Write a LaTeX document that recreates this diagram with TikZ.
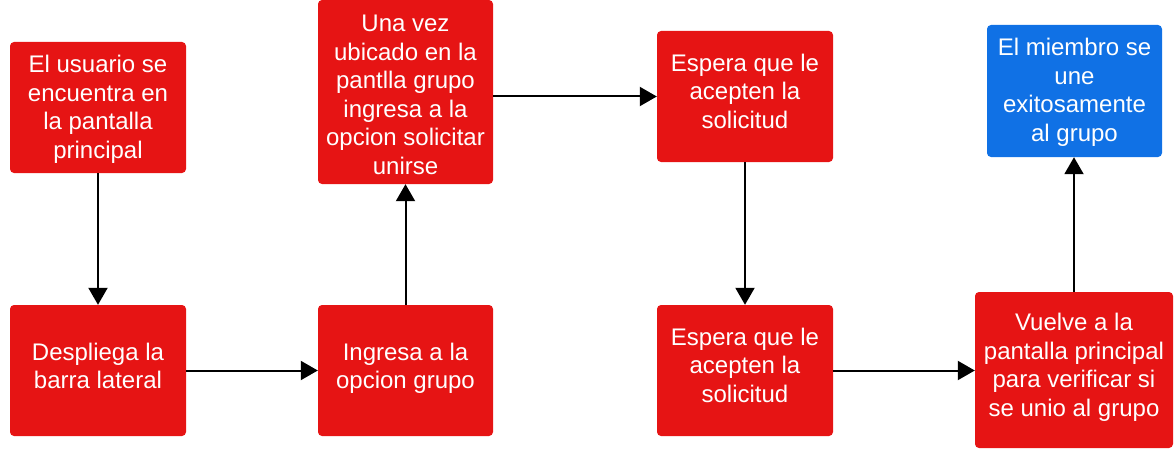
\documentclass[tikz,border=0pt]{standalone}
\usepackage{fontspec}
\setmainfont{Liberation Sans}
\usetikzlibrary{arrows.meta}
\definecolor{boxred}{HTML}{E61414}
\definecolor{boxblue}{HTML}{1071E5}
\newcommand{\mytop}{\rule{0pt}{24pt}}
\newcommand{\mybot}[1]{\rule[-#1pt]{0pt}{#1pt}}
\tikzset{
  stepbox/.style={fill=boxred, draw=none, rounded corners=4pt, inner sep=0pt,
    text=white, align=center, font=\fontsize{24}{28.5}\selectfont},
  endbox/.style={stepbox, fill=boxblue},
  arr/.style={line width=2pt, draw=black, -{Triangle[length=17pt,width=19pt]}}
}
\begin{document}
\begin{tikzpicture}[x=1pt,y=-1pt]
\useasboundingbox (0,0) rectangle (1176,452);
\node[stepbox, minimum width=176pt, minimum height=131pt] (b1) at (98,107.5)
  {\mytop El usuario se\\encuentra en\\la pantalla\\principal\mybot{8.4}};
\node[stepbox, minimum width=176pt, minimum height=131pt] (b2) at (98,370.5)
  {\mytop Despliega la\\barra lateral\mybot{15.8}};
\node[stepbox, minimum width=175pt, minimum height=131pt] (b3) at (405.5,370.5)
  {\mytop Ingresa a la\\opcion grupo\mybot{15.8}};
\node[stepbox, minimum width=175pt, minimum height=184pt] (b4) at (405.5,92)
  {\mytop Una vez\\ubicado en la\\pantlla grupo\\ingresa a la\\opcion solicitar\\unirse\mybot{2.4}};
\node[stepbox, minimum width=176pt, minimum height=131pt] (b5) at (745,96.5)
  {\mytop Espera que le\\acepten la\\solicitud\mybot{17.2}};
\node[stepbox, minimum width=176pt, minimum height=131pt] (b6) at (745,370.5)
  {\mytop Espera que le\\acepten la\\solicitud\mybot{17.8}};
\node[stepbox, minimum width=198pt, minimum height=156pt] (b7) at (1074,370)
  {\mytop Vuelve a la\\pantalla principal\\para verificar si\\se unio al grupo\mybot{17.2}};
\node[endbox, minimum width=175pt, minimum height=132pt] (b8) at (1074.5,91)
  {\mytop El miembro se\\une\\exitosamente\\al grupo\mybot{9.4}};
\draw[arr] (b1.south) -- (b2.north);
\draw[arr] (b2.east) -- (b3.west);
\draw[arr] (b3.north) -- (b4.south);
\draw[arr] (b4.east |- b5.west) -- (b5.west);
\draw[arr] (b5.south) -- (b6.north);
\draw[arr] (b6.east) -- (b6.east -| b7.west);
\draw[arr] (b7.north) -- (b7.north |- b8.south);
\end{tikzpicture}
\end{document}
